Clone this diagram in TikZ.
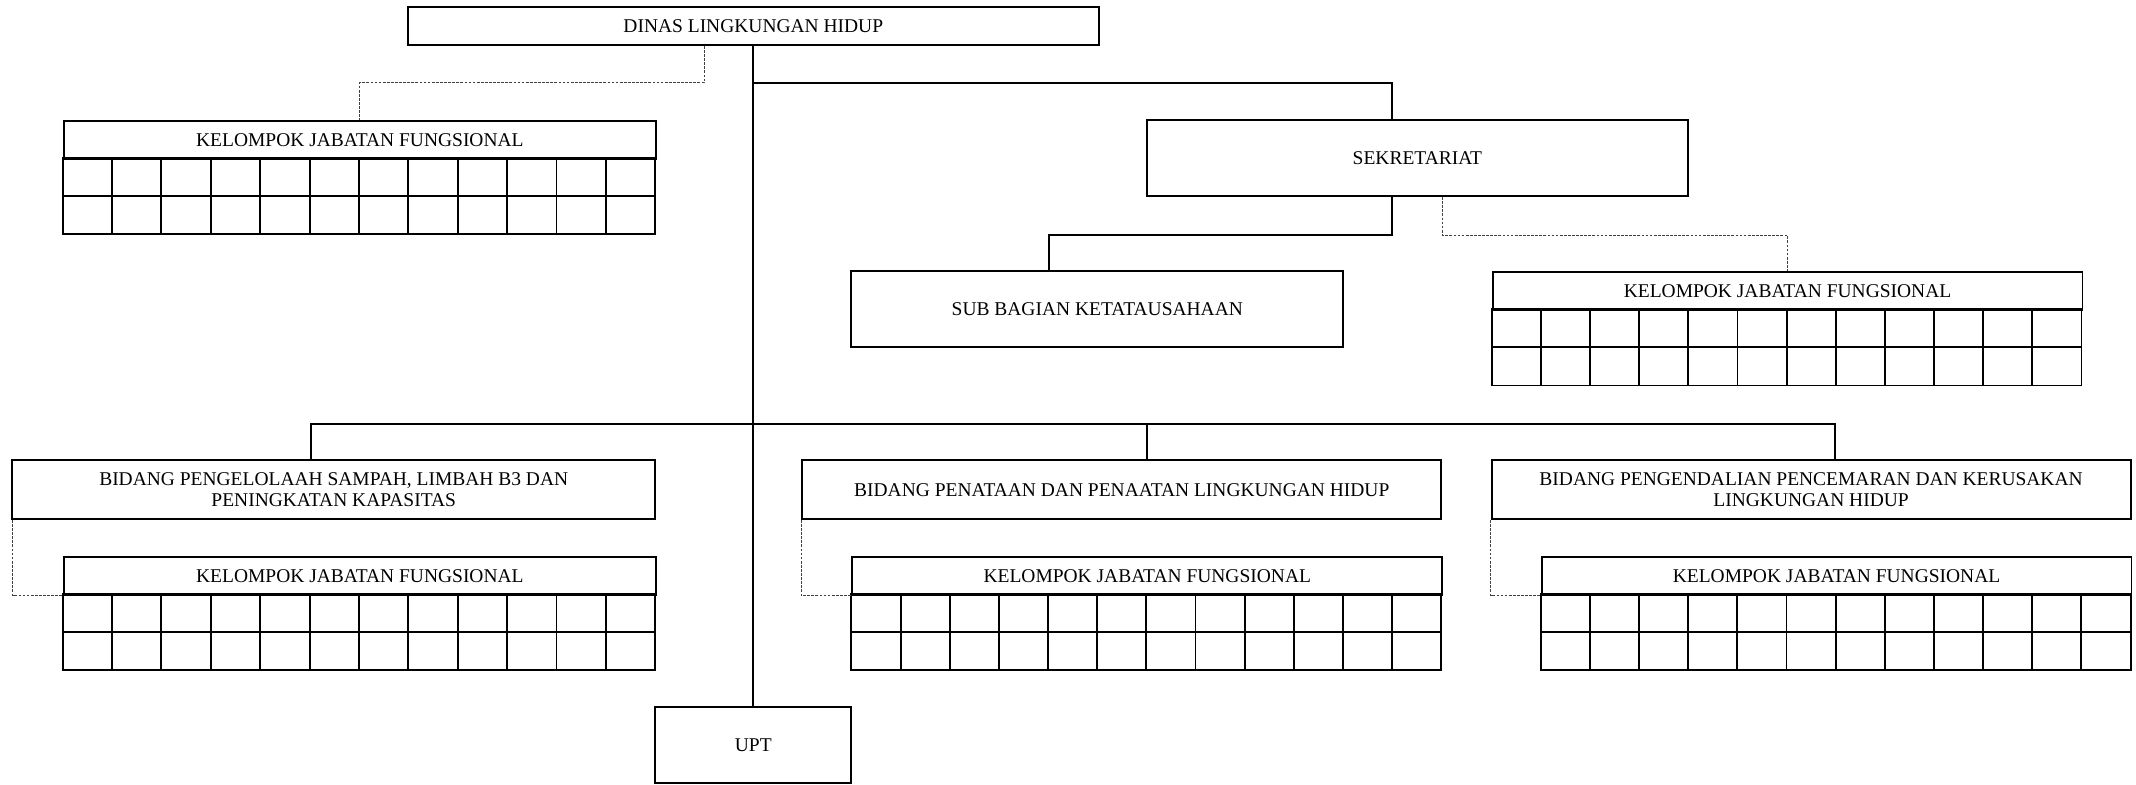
\documentclass[tikz,border=0pt]{standalone}
\usepackage{fontspec}
\setmainfont{Liberation Serif}
\usetikzlibrary{calc}

\tikzset{
  unitbox/.style={draw, line width=1.4pt, rectangle, inner sep=0pt, align=center,
    font=\fontsize{14.3}{15.5}\selectfont},
  solidlink/.style={line width=1.4pt},
  dotlink/.style={line width=0.7pt, black!75, dash pattern=on 2pt off 1pt},
  gridline/.style={line width=1.4pt},
}

% functional group: header box plus a 2 x 12 grid below it
% #1 name, #2 left x, #3 top y, #4 right x
\newcommand{\kjfbox}[4]{%
  \node[unitbox, minimum width={(#4-#2)*1pt}, minimum height=28pt, anchor=north west]
    (#1) at (#2,#3) {KELOMPOK JABATAN FUNGSIONAL};
  \pgfmathsetmacro\cellw{(#4-#2)/12}
  \draw[gridline] (#2,#3+28) rectangle (#4,#3+84);
  \draw[gridline] (#2,#3+56) -- (#4,#3+56);
  \foreach \i in {1,...,11}{
    \draw[gridline] ({#2+\i*\cellw},#3+28) -- ({#2+\i*\cellw},#3+84);
  }
}

\begin{document}
\begin{tikzpicture}[x=1pt, y=-1pt]
  \useasboundingbox (0,0) rectangle (1568,576);

  % main units
  \node[unitbox, minimum width=507pt, minimum height=28pt] (dinas) at (553,19) {DINAS LINGKUNGAN HIDUP};
  \node[unitbox, minimum width=397pt, minimum height=56pt] (sek) at (1040.5,116) {SEKRETARIAT};
  \node[unitbox, minimum width=361pt, minimum height=56pt] (sub) at (805.5,227) {SUB BAGIAN KETATAUSAHAAN};
  \node[unitbox, minimum width=472pt, minimum height=43pt] (b1) at (245,359.5)
    {BIDANG PENGELOLAAH SAMPAH, LIMBAH B3 DAN\\PENINGKATAN KAPASITAS};
  \node[unitbox, minimum width=469pt, minimum height=43pt] (b2) at (823.5,359.5)
    {BIDANG PENATAAN DAN PENAATAN LINGKUNGAN HIDUP};
  \node[unitbox, minimum width=469pt, minimum height=43pt] (b3) at (1329.5,359.5)
    {BIDANG PENGENDALIAN PENCEMARAN DAN KERUSAKAN\\LINGKUNGAN HIDUP};
  \node[unitbox, minimum width=144pt, minimum height=56pt] (upt) at (553,547) {UPT};

  % functional groups
  \kjfbox{k1}{46}{88}{481}
  \kjfbox{k2}{1095}{199}{1528}
  \kjfbox{k3}{46}{408}{481}
  \kjfbox{k4}{625}{408}{1058}
  \kjfbox{k5}{1131}{408}{1564}

  % trunk and command lines
  \coordinate (bus) at (553,311);
  \draw[solidlink] (dinas.south) -- (upt.north);
  \draw[solidlink] (dinas.south) ++(0,27) -| ([xshift=-18.5pt]sek.north);
  \draw[solidlink] ([xshift=-18.5pt]sek.south) -- ++(0,28) -| ([xshift=-35.5pt]sub.north);
  \draw[solidlink] ([xshift=-17pt]b1.north) |- ([xshift=17.5pt]b3.north |- bus) -- ([xshift=17.5pt]b3.north);
  \draw[solidlink] ([xshift=18.5pt]b2.north) -- ([xshift=18.5pt]b2.north |- bus);

  % coordination lines
  \draw[dotlink] ([xshift=-36pt]dinas.south) -- ++(0,27) -| (k1.north);
  \draw[dotlink] ([xshift=18.5pt]sek.south) -- ++(0,28) -| (k2.north);
  \draw[dotlink] ([xshift=1pt]b1.south west) |- (k3.south west);
  \draw[dotlink] (b2.south west) |- (k4.south west);
  \draw[dotlink] (b3.south west) |- (k5.south west);
\end{tikzpicture}
\end{document}
